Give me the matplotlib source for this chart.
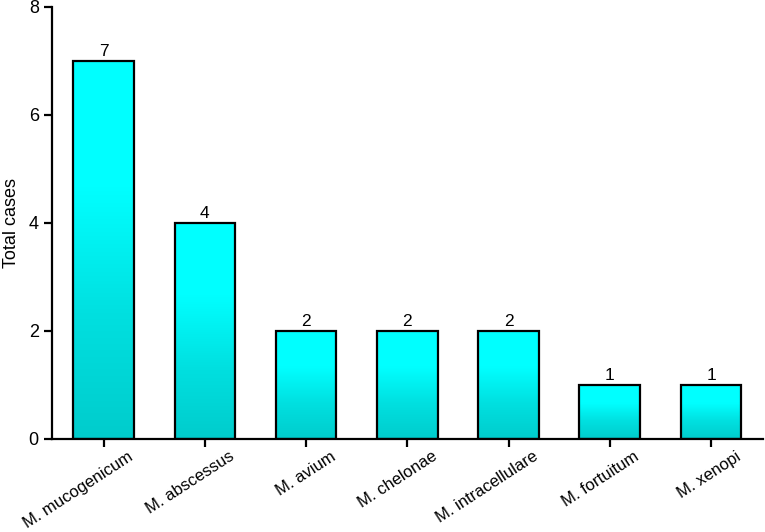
import matplotlib
matplotlib.use("Agg")
import matplotlib.pyplot as plt
import matplotlib.transforms as mtransforms
import numpy as np
from matplotlib.colors import LinearSegmentedColormap

plt.rcParams['font.family'] = ['Liberation Sans', 'DejaVu Sans']

species = ["M. mucogenicum", "M. abscessus", "M. avium", "M. chelonae",
           "M. intracellulare", "M. fortuitum", "M. xenopi"]
cases = [7, 4, 2, 2, 2, 1, 1]

fig = plt.figure(figsize=(7.65, 5.32), dpi=100)
ax = fig.add_axes([0.068, 0.175, 0.929, 0.812])

x = np.arange(len(species))
bars = ax.bar(x, cases, width=0.6, facecolor='none', edgecolor='black',
              linewidth=1.6, zorder=3)

# vertical gradient inside each bar: cyan on top, darker teal at the bottom
cmap = LinearSegmentedColormap.from_list("cy", ["#00cccc", "#00e0e0", "#00ffff", "#00ffff"])
grad = np.linspace(0, 1, 256).reshape(-1, 1)
for b in bars:
    x0, w, h = b.get_x(), b.get_width(), b.get_height()
    im = ax.imshow(grad, cmap=cmap, origin='lower', aspect='auto',
                   extent=[x0, x0 + w, 0, h], zorder=2)
    im.set_clip_path(b)

for xi, v in zip(x, cases):
    ax.text(xi, v + 0.03, str(v), ha='center', va='bottom', fontsize=12.5)

ax.set_xlim(-0.51, 6.51)
ax.set_ylim(0, 8)
ax.set_yticks([0, 2, 4, 6, 8])
ax.set_xticks(x)
ax.set_xticklabels([])

# category labels, rotated; they end a little to the right of their ticks
shift = mtransforms.ScaledTranslation(0.24, -0.10, fig.dpi_scale_trans)
for xi, name in zip(x, species):
    ax.text(xi, 0, name, rotation=33, ha='right', va='top', rotation_mode='anchor',
            fontsize=12, transform=ax.get_xaxis_transform() + shift, clip_on=False)

ax.tick_params(axis='y', labelsize=13, width=1.6, length=6)
ax.tick_params(axis='x', width=1.6, length=6)
ax.set_ylabel("Total cases", fontsize=13, labelpad=6)

for s in ['top', 'right']:
    ax.spines[s].set_visible(False)
for s in ['left', 'bottom']:
    ax.spines[s].set_linewidth(1.6)

fig.savefig("out.png", dpi=100)
